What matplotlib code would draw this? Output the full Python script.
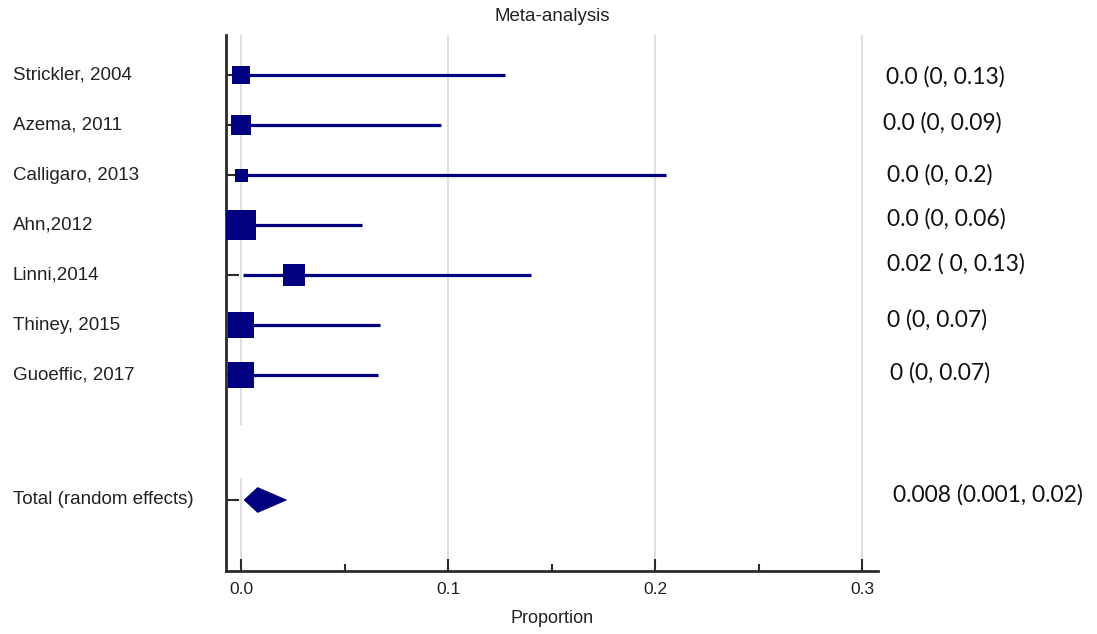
import matplotlib
matplotlib.use("Agg")
import matplotlib.pyplot as plt
from matplotlib.patches import Polygon
from matplotlib.transforms import blended_transform_factory, offset_copy

# ---- data ----
studies = ["Strickler, 2004", "Azema, 2011", "Calligaro, 2013", "Ahn,2012",
           "Linni,2014", "Thiney, 2015", "Guoeffic, 2017"]
estimates = [0.0, 0.0, 0.0, 0.0, 0.0255, 0.0, 0.0]
ci_low = [0.0, 0.0, 0.0, 0.0, 0.001, 0.0, 0.0]
ci_high = [0.1275, 0.0966, 0.2053, 0.0583, 0.140, 0.0671, 0.066]
weights = [18, 20, 13, 30, 22, 26, 26]          # relative square size
result_labels = ["0.0 (0, 0.13)", "0.0 (0, 0.09)", "0.0 (0, 0.2)", "0.0 (0, 0.06)",
                 "0.02 ( 0, 0.13)", "0 (0, 0.07)", "0 (0, 0.07)"]
total_label = "Total (random effects)"
total_est, total_low, total_high = 0.008, 0.0015, 0.022
total_result = "0.008 (0.001, 0.02)"
xticks = [0.0, 0.1, 0.2, 0.3]
xtick_labels = ["0.0", "0.1", "0.2", "0.3"]
minor_xticks = [0.05, 0.15, 0.25]

# ---- layout / style ----
W, H, DPI = 1097, 634, 100
navy = "#000080"
txt = "#222222"
fig = plt.figure(figsize=(W / DPI, H / DPI), dpi=DPI)
ax = fig.add_axes([226 / W, 1 - 571 / H, (878 - 226) / W, (571 - 35) / H])

rows = list(range(len(studies)))
total_row = 8.5
ax.set_xlim(-0.00725, 0.3077)
ax.set_ylim(9.92, -0.8)

# grid lines
for t in xticks:
    if t == 0.0:
        ax.vlines(t, -0.8, 7.0, color="#d9d9d9", lw=1.2, zorder=0)
        ax.vlines(t, 8.05, 9.92, color="#d9d9d9", lw=1.2, zorder=0)
    else:
        ax.axvline(t, color="#d9d9d9", lw=1.2, zorder=0)

# study rows
for r, e, lo, hi, w in zip(rows, estimates, ci_low, ci_high, weights):
    ax.plot([lo, hi], [r, r], color=navy, lw=2.3, solid_capstyle="butt", zorder=2)
    ax.plot([e], [r], marker="s", ms=w * 0.72, color=navy, mec=navy, mew=0, zorder=3)

# total diamond
hh = 0.25
diamond = Polygon([[total_low, total_row], [total_est, total_row - hh],
                   [total_high, total_row], [total_est, total_row + hh]],
                  closed=True, facecolor=navy, edgecolor=navy, lw=0.5, zorder=3)
ax.add_patch(diamond)

# spines & ticks
for s in ["top", "right"]:
    ax.spines[s].set_visible(False)
for s in ["left", "bottom"]:
    ax.spines[s].set_linewidth(2)
    ax.spines[s].set_color("#2b2b2b")

ax.set_yticks(rows + [total_row])
ax.set_yticklabels([])
ax.tick_params(axis="y", direction="in", length=9.5, width=1.5, color="#2b2b2b")
ax.set_xticks(xticks)
ax.set_xticklabels(xtick_labels, fontsize=12.5, family="Liberation Sans", color=txt)
ax.set_xticks(minor_xticks, minor=True)
ax.tick_params(axis="x", which="major", direction="in", length=9, width=1.5,
               color="#2b2b2b", pad=8)
ax.tick_params(axis="x", which="minor", direction="in", length=5, width=1.5,
               color="#2b2b2b")
ax.set_xlabel("Proportion", fontsize=13, family="Liberation Sans", color=txt,
              labelpad=9)
ax.set_title("Meta-analysis", fontsize=13.5, family="Liberation Sans", color=txt,
             pad=10)

# left study labels
tr_left = blended_transform_factory(fig.transFigure, ax.transData)
for r, name in zip(rows, studies):
    ax.text(13 / W, r, name, transform=tr_left, ha="left", va="center",
            fontsize=13.5, family="Liberation Sans", color=txt)
ax.text(13 / W, total_row, total_label, transform=tr_left, ha="left", va="center",
        fontsize=13.5, family="Liberation Sans", color=txt)

# right result labels (text-box placement offsets in pixels)
label_x_px = [886, 883, 887, 887, 887, 887, 890]
label_dy_px = [2, -2, 0, -6, -11, -5, -2]
for r, lab, xp, dy in zip(rows, result_labels, label_x_px, label_dy_px):
    tr = offset_copy(blended_transform_factory(fig.transFigure, ax.transData),
                     fig=fig, x=0, y=-dy, units="dots")
    ax.text(xp / W, r, lab, transform=tr, ha="left", va="center",
            fontsize=16.5, family="Lato", color="#111111", clip_on=False)
tr = offset_copy(blended_transform_factory(fig.transFigure, ax.transData),
                 fig=fig, x=0, y=5, units="dots")
ax.text(893 / W, total_row, total_result, transform=tr, ha="left", va="center",
        fontsize=16.5, family="Lato", color="#111111", clip_on=False)

fig.savefig("out.png", dpi=DPI)
